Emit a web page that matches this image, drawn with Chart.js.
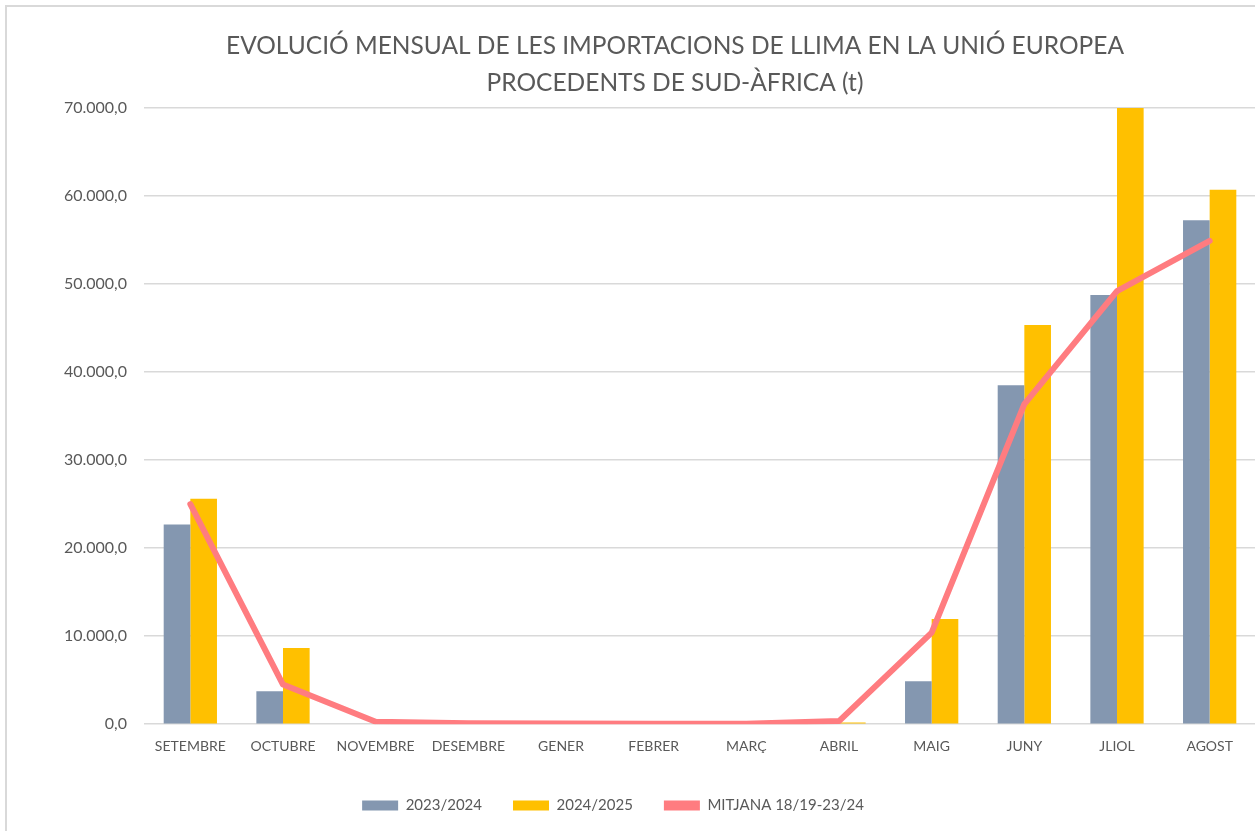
<!DOCTYPE html>
<html>
<head>
<meta charset="utf-8">
<script src="https://cdn.jsdelivr.net/npm/chart.js@4/dist/chart.umd.min.js"></script>
<style>
  html, body { margin:0; padding:0; background:#fff; overflow:hidden; width:1255px; height:831px; }
  #frame { position:absolute; left:5px; top:5px; width:1300px; height:900px; border-left:2px solid #d9d9d9; border-top:2px solid #d9d9d9; box-sizing:border-box; }
  #wrap { position:absolute; left:0; top:0; width:1262px; height:831px; }
</style>
</head>
<body>
<div id="frame"></div>
<div id="wrap"><canvas id="c" width="1262" height="831"></canvas></div>
<script>
const categories = ["SETEMBRE","OCTUBRE","NOVEMBRE","DESEMBRE","GENER","FEBRER","MARÇ","ABRIL","MAIG","JUNY","JLIOL","AGOST"];
const series2324 = [22700, 3750, 0, 0, 0, 0, 0, 0, 4890, 38500, 48750, 57250];
const series2425 = [25600, 8650, 0, 0, 0, 0, 0, 200, 11950, 45350, 70000, 60700];
const mitjana = [25000, 4500, 280, 120, 90, 40, 60, 350, 10400, 36350, 49200, 54900];
const yTicks = [0, 10000, 20000, 30000, 40000, 50000, 60000, 70000];
const titleLines = ["EVOLUCIÓ MENSUAL DE LES IMPORTACIONS DE LLIMA EN LA UNIÓ EUROPEA", "PROCEDENTS DE SUD-ÀFRICA (t)"];

const txt = '#595959';
const fmt = v => v.toLocaleString('de-DE', {minimumFractionDigits:1, maximumFractionDigits:1});

const shiftBlocks = {
  id:'shiftBlocks',
  afterLayout(chart){
    const tb = chart.titleBlock;
    if (tb) { tb.left = 88; tb.right = 1262; }
    const lg = chart.legend;
    if (lg) { lg.left -= 15; lg.right -= 15; }
  }
};

new Chart(document.getElementById('c'), {
  data: {
    labels: categories,
    datasets: [
      { type:'line', label:'MITJANA 18/19-23/24', data: mitjana, borderColor:'#FF7C80', backgroundColor:'#FF7C80',
        borderWidth:6, pointRadius:0, borderCapStyle:'round', borderJoinStyle:'round', tension:0, order:0 },
      { type:'bar', label:'2023/2024', data: series2324, backgroundColor:'#8497B0', order:1,
        categoryPercentage:0.575, barPercentage:1 },
      { type:'bar', label:'2024/2025', data: series2425, backgroundColor:'#FFC000', order:2,
        categoryPercentage:0.575, barPercentage:1 }
    ]
  },
  plugins:[shiftBlocks],
  options: {
    responsive:false, animation:false,
    layout:{ padding:{ left:0, right:6, top:0, bottom:8 } },
    plugins:{
      title:{ display:true, text:titleLines, color:txt, font:{family:'Lato', size:24.5, weight:'normal', lineHeight:1.5}, padding:{top:27.5, bottom:7} },
      legend:{ position:'bottom',
        labels:{ color:txt, font:{family:'Lato', size:15}, boxWidth:36, boxHeight:10, padding:31,
          generateLabels(chart){
            const order = [1,2,0];
            return order.map(i => {
              const ds = chart.data.datasets[i];
              return { text: ds.label, fillStyle: ds.backgroundColor, strokeStyle: ds.backgroundColor, lineWidth:0, datasetIndex:i, fontColor: txt };
            });
          }
        }
      },
      tooltip:{ enabled:false }
    },
    scales:{
      x:{ offset:true, grid:{ display:false, drawTicks:false }, border:{ display:false },
          afterFit(s){ s.height -= 2; },
          ticks:{ color:txt, font:{family:'Lato', size:14}, padding:14, maxRotation:0, autoSkip:false } },
      y:{ min:0, max:70000, afterBuildTicks(s){ s.ticks = yTicks.map(v=>({value:v})); },
          afterFit(s){ s.width = 144; },
          grid:{ color:'#d9d9d9', lineWidth:1.5, drawTicks:false }, border:{ display:false },
          ticks:{ color:txt, font:{family:'Lato', size:16}, padding:17, callback:v=>fmt(v) } }
    }
  }
});
</script>
</body>
</html>
